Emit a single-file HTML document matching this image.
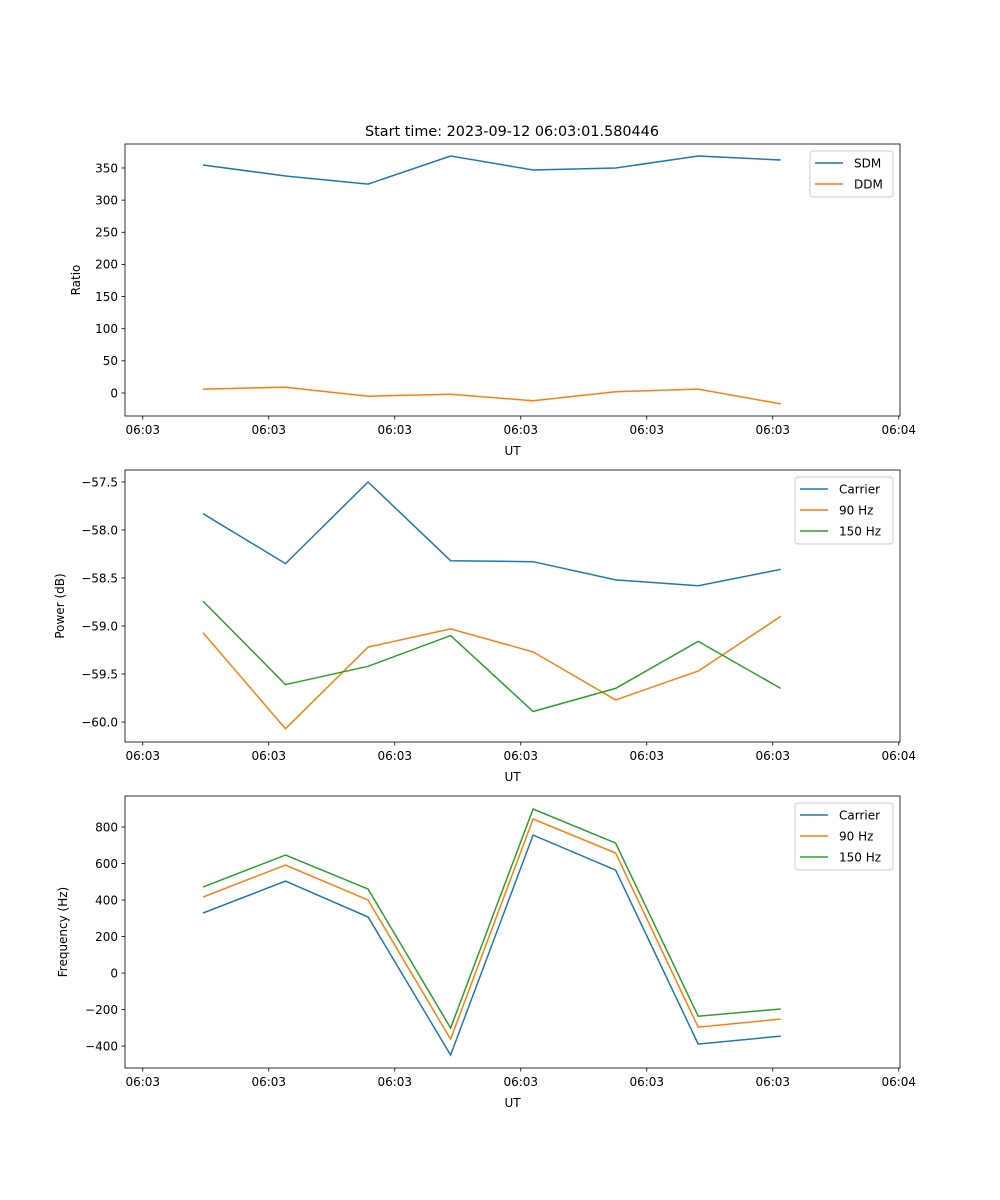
<!DOCTYPE html>
<html><head><meta charset="utf-8"><style>
body{margin:0;background:#fff}
svg{display:block;font-family:"DejaVu Sans","Liberation Sans",sans-serif}
</style></head><body>
<svg id="fig" width="1000" height="1200" viewBox="0 0 1000 1200" xmlns="http://www.w3.org/2000/svg">
<text x="512" y="136" font-size="14.4" text-anchor="middle">Start time: 2023-09-12 06:03:01.580446</text>
</svg>
<script>
const times = [1.58, 8.13, 14.68, 21.23, 27.78, 34.33, 40.88, 47.43];
const xTicks = [-3.2, 6.8, 16.8, 26.8, 36.8, 46.8, 56.8];
const xTickLabels = ["06:03","06:03","06:03","06:03","06:03","06:03","06:04"];
const sdm = [354.6, 337.5, 325, 368.6, 346.8, 350, 368.6, 362.4];
const ddm = [6, 9, -5, -2, -12, 2, 6, -17];
const powCarrier = [-57.83, -58.35, -57.5, -58.32, -58.33, -58.52, -58.58, -58.41];
const pow90 = [-59.07, -60.07, -59.22, -59.03, -59.27, -59.77, -59.47, -58.9];
const pow150 = [-58.74, -59.61, -59.42, -59.1, -59.89, -59.65, -59.16, -59.65];
const freqCarrier = [329, 504, 307, -449, 756, 564, -389, -345];
const freq90 = [416, 592, 400, -362, 844, 658, -296, -252];
const freq150 = [471, 647, 460, -301, 899, 712, -236, -197];
const ticks1 = [0, 50, 100, 150, 200, 250, 300, 350];
const ticks2 = [-60.0, -59.5, -59.0, -58.5, -58.0, -57.5];
const ticks3 = [-400, -200, 0, 200, 400, 600, 800];

const NS = "http://www.w3.org/2000/svg";
const svg = document.getElementById('fig');
const L = 125, R = 900, X0 = -4.61, X1 = X0 + 775/12.6;
function mk(tag, attrs, parent){const e=document.createElementNS(NS,tag);for(const k in attrs)e.setAttribute(k,attrs[k]);(parent||svg).appendChild(e);return e;}
const xs = t => L + (t - X0) / (X1 - X0) * (R - L);

function panel(key, top, bottom, ymin, ymax, yticks, fmt, ylabel, series, legend){
  const g = mk('g', {});
  
  
  const ys = v => bottom - (v - ymin) / (ymax - ymin) * (bottom - top);
  series.forEach(s => {
    const p = mk('polyline', {points: s.vals.map((v,i)=>xs(times[i]).toFixed(1)+','+ys(v).toFixed(1)).join(' '), fill:'none', stroke:s.color, 'stroke-width':1.5}, g);
    
    
  });
  const fr = mk('rect', {x:L, y:top, width:R-L, height:bottom-top, fill:'none', stroke:'#000', 'stroke-width':0.8}, g);
  
  
  xTicks.forEach((t,i) => {
    const x = xs(t);
    mk('line', {x1:x, x2:x, y1:bottom, y2:bottom+3.5, stroke:'#000', 'stroke-width':0.8}, g);
    const tx = mk('text', {x:x, y:bottom+18, 'font-size':12, 'text-anchor':'middle'}, g);
    tx.textContent = xTickLabels[i];
    
    
  });
  yticks.forEach(v => {
    const y = ys(v);
    mk('line', {x1:L-3.5, x2:L, y1:y, y2:y, stroke:'#000', 'stroke-width':0.8}, g);
    const tx = mk('text', {x:L-7, y:y+4.3, 'font-size':12, 'text-anchor':'end'}, g);
    tx.textContent = fmt(v);
    
    
  });
  const xl = mk('text', {x:(L+R)/2, y:bottom+39, 'font-size':12, 'text-anchor':'middle'}, g);
  xl.textContent = 'UT';
  
  
  const yl = mk('text', {x:0, y:0, 'font-size':12, 'text-anchor':'middle', transform:`translate(${legend.ylx},${(top+bottom)/2}) rotate(-90)`}, g);
  yl.textContent = ylabel;
  
  
  const lg = mk('g', {}, g);
  
  
  const h = 4 + series.length * 21;
  mk('rect', {x:legend.x, y:top+7, width:R-7-legend.x, height:h, rx:3, fill:'#fff', stroke:'#ccc', 'stroke-width':1}, lg);
  series.forEach((s,i) => {
    const y = top + 7 + 12 + i*21;
    mk('line', {x1:legend.x+5, x2:legend.x+33, y1:y, y2:y, stroke:s.color, 'stroke-width':1.5}, lg);
    const tx = mk('text', {x:legend.x+44, y:y+4.5, 'font-size':12}, lg);
    tx.textContent = s.label;
    
    
  });
}
const minus = s => s.replace('-', '\u2212');
panel('ratio', 144, 416, -35.8, 387.3, ticks1, v=>minus(String(v)), 'Ratio',
  [{id:'sdm',label:'SDM',vals:sdm,color:'#1f77b4'},{id:'ddm',label:'DDM',vals:ddm,color:'#ff7f0e'}], {x:810, ylx:80});
panel('power', 470, 742, -60.208, -57.375, ticks2, v=>minus(v.toFixed(1)), 'Power (dB)',
  [{id:'carrier',label:'Carrier',vals:powCarrier,color:'#1f77b4'},{id:'90hz',label:'90 Hz',vals:pow90,color:'#ff7f0e'},{id:'150hz',label:'150 Hz',vals:pow150,color:'#2ca02c'}], {x:795, ylx:64});
panel('frequency', 796, 1068, -520, 970, ticks3, v=>minus(String(v)), 'Frequency (Hz)',
  [{id:'carrier',label:'Carrier',vals:freqCarrier,color:'#1f77b4'},{id:'90hz',label:'90 Hz',vals:freq90,color:'#ff7f0e'},{id:'150hz',label:'150 Hz',vals:freq150,color:'#2ca02c'}], {x:795, ylx:67});
</script>
</body></html>
